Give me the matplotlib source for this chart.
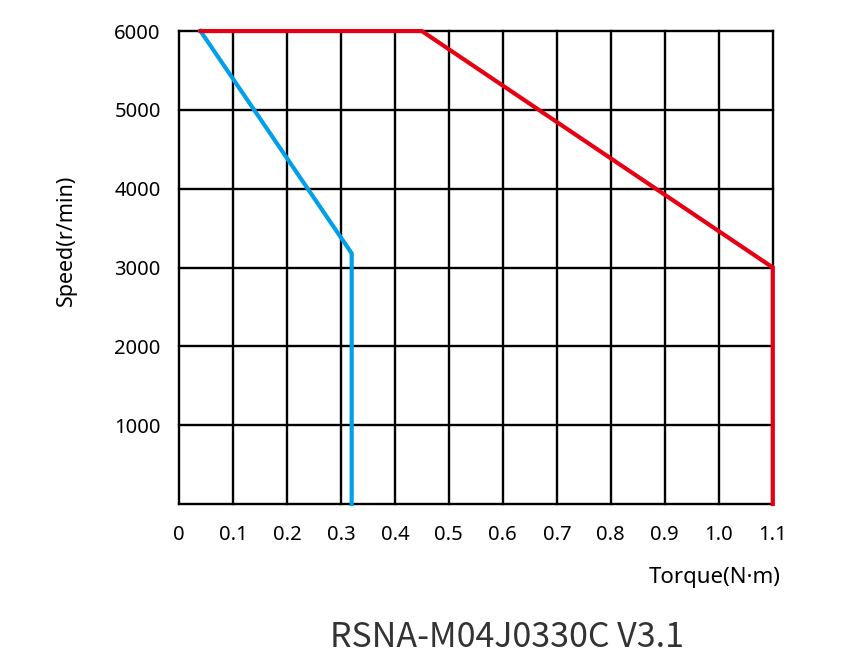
import matplotlib
matplotlib.use("Agg")
import matplotlib.pyplot as plt
import numpy as np

plt.rcParams['font.family'] = ['Noto Sans', 'DejaVu Sans']

# Curve data (torque N·m, speed r/min)
blue_torque = [0.04, 0.32, 0.32]
blue_speed = [6000, 3180, 0]
red_torque = [0.04, 0.45, 1.1, 1.1]
red_speed = [6000, 6000, 3000, 0]

x_ticks = [0, 0.1, 0.2, 0.3, 0.4, 0.5, 0.6, 0.7, 0.8, 0.9, 1.0, 1.1]
x_labels = ['0', '0.1', '0.2', '0.3', '0.4', '0.5', '0.6', '0.7', '0.8', '0.9', '1.0', '1.1']
y_ticks = [1000, 2000, 3000, 4000, 5000, 6000]

fig = plt.figure(figsize=(8.52, 6.68), dpi=100)
ax = fig.add_axes([0.210, 0.2455, 0.697, 0.708])

ax.set_xlim(0, 1.1)
ax.set_ylim(0, 6000)

for x in x_ticks:
    ax.axvline(x, color='black', lw=1.7, zorder=1, clip_on=False)
for y in [0] + y_ticks:
    ax.axhline(y, color='black', lw=1.7, zorder=1, clip_on=False)

ax.plot(blue_torque, blue_speed, color='#00A0E9', lw=3, zorder=3,
        solid_joinstyle='miter', clip_on=False)
ax.plot(red_torque, red_speed, color='#E60012', lw=3, zorder=3,
        solid_joinstyle='miter', clip_on=False)

for s in ax.spines.values():
    s.set_visible(False)

ax.set_xticks(x_ticks)
ax.set_xticklabels(x_labels)
ax.set_yticks(y_ticks)
ax.tick_params(length=0, labelsize=14.5)
ax.tick_params(axis='y', pad=13)
ax.tick_params(axis='x', pad=15)

fig.text(0.078, 0.64, 'Speed(r/min)', rotation=90, fontsize=15.5, ha='center', va='center')
fig.text(0.839, 0.136, 'Torque(N·m)', fontsize=16, ha='center', va='center')
fig.text(0.595, 0.045, 'RSNA-M04J0330C V3.1', fontsize=24.5, ha='center', va='center',
         color='#333333', family=['Noto Sans CJK SC', 'DejaVu Sans'])

fig.savefig('out.png', dpi=100)
